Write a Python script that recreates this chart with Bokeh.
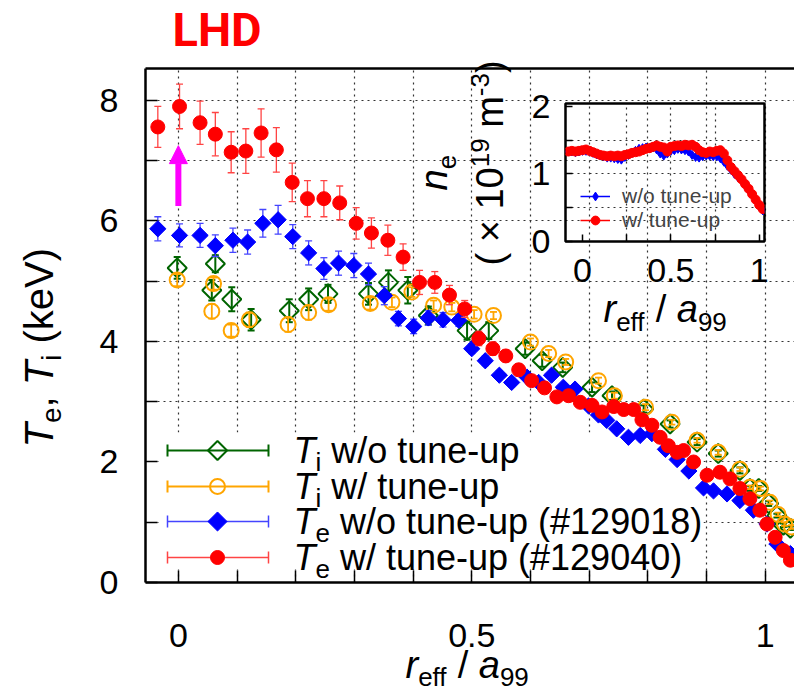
import math
from bokeh.plotting import figure
from bokeh.models import (Range1d, FixedTicker, LinearAxis, Legend, LegendItem,
                          Label, Arrow, NormalHead, ColumnDataSource, NumeralTickFormatter,
                          BoxAnnotation)
from bokeh.layouts import column
from bokeh.embed import file_html
from bokeh.resources import INLINE

# ---------------- data ----------------
# T_i without tune-up (green open diamonds)
ti_wo_r = [-0.002, 0.057, 0.063, 0.091, 0.124, 0.189, 0.222, 0.255, 0.324, 0.358,
           0.391, 0.426, 0.492, 0.529, 0.591, 0.620, 0.655, 0.705, 0.739, 0.793,
           0.838, 0.884, 0.920, 0.957, 0.974, 0.989, 1.006, 1.020, 1.031, 1.043]
ti_wo = [5.22, 4.85, 5.29, 4.70, 4.36, 4.51, 4.70, 4.79, 4.79, 4.98,
         4.85, 4.43, 4.18, 4.18, 3.88, 3.68, 3.57, 3.24, 3.10, 2.88,
         2.63, 2.33, 2.14, 1.86, 1.56, 1.56, 1.31, 1.11, 0.95, 0.90]
ti_wo_err = [0.18, 0.17, 0.14, 0.20, 0.18, 0.19, 0.18, 0.15, 0.18, 0.20,
             0.22, 0.15, 0.15, 0.14, 0.10, 0.10, 0.08, 0.08, 0.07, 0.06,
             0.06, 0.05, 0.05, 0.05, 0.04, 0.04, 0.04, 0.03, 0.03, 0.03]

# T_i with tune-up (orange open circles)
ti_w_r = [-0.002, 0.057, 0.060, 0.090, 0.121, 0.187, 0.222, 0.256, 0.327, 0.364,
          0.398, 0.435, 0.466, 0.504, 0.537, 0.600, 0.631, 0.660, 0.716, 0.743,
          0.796, 0.841, 0.884, 0.920, 0.957, 0.974, 0.992, 1.008, 1.022, 1.033, 1.045]
ti_w = [5.02, 4.50, 4.96, 4.18, 4.36, 4.28, 4.48, 4.61, 4.63, 4.65,
        4.82, 4.60, 4.57, 4.45, 4.43, 3.99, 3.80, 3.66, 3.35, 3.10,
        2.91, 2.66, 2.36, 2.16, 1.88, 1.58, 1.56, 1.33, 1.13, 0.97, 0.92]
ti_w_err = [0.10, 0.12, 0.10, 0.10, 0.12, 0.12, 0.12, 0.10, 0.10, 0.08,
            0.08, 0.08, 0.07, 0.07, 0.06, 0.06, 0.06, 0.05, 0.05, 0.05,
            0.05, 0.04, 0.04, 0.04, 0.03, 0.03, 0.03, 0.03, 0.03, 0.03, 0.03]

# T_e without tune-up #129018 (blue diamonds)
te_wo_r = [-0.035, 0.002, 0.037, 0.063, 0.093, 0.118, 0.144, 0.170, 0.195, 0.222,
           0.248, 0.273, 0.299, 0.324, 0.351, 0.375, 0.401, 0.426, 0.451, 0.478,
           0.500, 0.523, 0.547, 0.568, 0.594, 0.614, 0.636, 0.656, 0.676, 0.699,
           0.716, 0.730, 0.747, 0.767, 0.787, 0.807, 0.830, 0.850, 0.870, 0.895,
           0.912, 0.935, 0.957, 0.980, 1.003, 1.020, 1.043]
te_wo = [5.87, 5.76, 5.76, 5.59, 5.68, 5.65, 5.96, 6.02, 5.74, 5.47,
         5.21, 5.30, 5.26, 5.12, 4.76, 4.38, 4.25, 4.39, 4.36, 4.35,
         3.88, 3.68, 3.44, 3.32, 3.41, 3.32, 3.44, 3.24, 3.21, 2.93,
         2.78, 2.69, 2.55, 2.41, 2.44, 2.47, 2.21, 2.04, 1.85, 1.57,
         1.52, 1.47, 1.36, 1.20, 0.97, 0.64, 0.48]
te_wo_err = [0.20, 0.19, 0.20, 0.18, 0.20, 0.20, 0.23, 0.24, 0.20, 0.20,
             0.18, 0.20, 0.20, 0.18, 0.15, 0.12, 0.12, 0.12, 0.12, 0.10,
             0.08, 0.08, 0.07, 0.07, 0.07, 0.06, 0.06, 0.06, 0.05, 0.05,
             0.05, 0.05, 0.05, 0.04, 0.04, 0.04, 0.04, 0.04, 0.04, 0.03,
             0.03, 0.03, 0.03, 0.03, 0.03, 0.02, 0.02]

# T_e with tune-up #129040 (red circles)
te_w_r = [-0.035, 0.002, 0.037, 0.063, 0.090, 0.115, 0.141, 0.167, 0.194, 0.220,
          0.248, 0.275, 0.303, 0.329, 0.357, 0.383, 0.411, 0.437, 0.462, 0.488,
          0.512, 0.536, 0.558, 0.580, 0.602, 0.624, 0.645, 0.665, 0.685, 0.705,
          0.722, 0.742, 0.759, 0.776, 0.790, 0.807, 0.821, 0.835, 0.850, 0.861,
          0.878, 0.901, 0.923, 0.940, 0.957, 0.974, 0.991, 1.003, 1.017, 1.031, 1.043]
te_w = [7.56, 7.90, 7.63, 7.44, 7.14, 7.16, 7.46, 7.18, 6.64, 6.37,
        6.37, 6.30, 5.96, 5.80, 5.68, 5.40, 4.98, 4.98, 4.77, 4.54,
        4.05, 3.88, 3.76, 3.53, 3.35, 3.23, 3.08, 3.10, 2.99, 2.94,
        2.83, 2.92, 2.87, 2.87, 2.70, 2.61, 2.41, 2.27, 2.16, 2.19,
        2.00, 1.78, 1.83, 1.72, 1.56, 1.39, 1.20, 0.97, 0.75, 0.53, 0.37]
te_w_err = [0.34, 0.37, 0.36, 0.36, 0.34, 0.37, 0.40, 0.37, 0.32, 0.30,
            0.30, 0.28, 0.26, 0.25, 0.25, 0.22, 0.20, 0.18, 0.16, 0.14,
            0.12, 0.11, 0.10, 0.10, 0.09, 0.08, 0.08, 0.07, 0.07, 0.06,
            0.06, 0.06, 0.05, 0.05, 0.05, 0.05, 0.04, 0.04, 0.04, 0.04,
            0.04, 0.03, 0.03, 0.03, 0.03, 0.03, 0.03, 0.02, 0.02, 0.02, 0.02]

# inset: electron density n_e (10^19 m^-3)
ne_r = [-0.08, -0.06, -0.04, -0.02, 0.00, 0.02, 0.04, 0.06, 0.08, 0.10,
        0.12, 0.14, 0.16, 0.18, 0.20, 0.22, 0.24, 0.26, 0.28, 0.30,
        0.32, 0.34, 0.36, 0.38, 0.40, 0.42, 0.44, 0.46, 0.48, 0.50,
        0.52, 0.54, 0.56, 0.58, 0.60, 0.62, 0.64, 0.66, 0.68, 0.70,
        0.72, 0.74, 0.76, 0.78, 0.80, 0.82, 0.84, 0.86, 0.88, 0.90,
        0.92, 0.94, 0.96, 0.98, 1.00, 1.02]
ne_wo = [1.33, 1.33, 1.32, 1.33, 1.34, 1.34, 1.33, 1.31, 1.29, 1.27,
         1.26, 1.24, 1.24, 1.23, 1.22, 1.21, 1.25, 1.28, 1.31, 1.34,
         1.37, 1.38, 1.39, 1.38, 1.39, 1.36, 1.30, 1.27, 1.30, 1.34,
         1.35, 1.37, 1.36, 1.35, 1.33, 1.28, 1.25, 1.24, 1.26, 1.27,
         1.27, 1.26, 1.26, 1.23, 1.18, 1.12, 1.06, 1.00, 0.95, 0.90,
         0.83, 0.76, 0.69, 0.61, 0.52, 0.46]
ne_w = [1.33, 1.34, 1.33, 1.34, 1.35, 1.36, 1.34, 1.32, 1.30, 1.28,
        1.27, 1.26, 1.27, 1.26, 1.27, 1.26, 1.28, 1.29, 1.31, 1.32,
        1.33, 1.35, 1.37, 1.38, 1.40, 1.42, 1.40, 1.39, 1.33, 1.40,
        1.41, 1.42, 1.41, 1.43, 1.42, 1.43, 1.40, 1.35, 1.32, 1.31,
        1.33, 1.32, 1.34, 1.35, 1.30, 1.20, 1.10, 1.04, 0.98, 0.92,
        0.85, 0.78, 0.70, 0.62, 0.54, 0.48]

# magenta arrow on the axis
arrow_x = 0.0
arrow_y = [6.25, 7.25]

# axis ticks
main_x_major = [0, 0.5, 1]
main_x_minor = [0.1, 0.2, 0.3, 0.4, 0.6, 0.7, 0.8, 0.9]
main_x_grid = [0.0, 0.1, 0.2, 0.3, 0.4, 0.5, 0.6, 0.7, 0.8, 0.9, 1.0]
main_y_major = [0, 2, 4, 6, 8]
main_y_minor = [1, 3, 5, 7]
main_y_grid = [1, 2, 3, 4, 5, 6, 7, 8]
ins_x_major = [0, 0.5, 1]
ins_x_minor = [0.25, 0.75]
ins_y_major = [0, 1, 2]
ins_y_minor = [0.5, 1.5]

legend_sym = ["T", "T", "T", "T"]
legend_sub = ["i", "i", "e", "e"]
legend_rest = [" w/o tune-up", " w/ tune-up", " w/o tune-up (#129018)", " w/ tune-up (#129040)"]
inset_legend_labels = ["w/o tune-up", "w/ tune-up"]

# ---------------- layout constants (page pixels) ----------------
FONT = "Liberation Sans"
W, H = 794, 694
FL, FT, FB = 145, 68, 582            # main frame left / top / bottom
XR = (-0.056, 1.05)
YR = (0.0, 8.53)
QL, QT, QW, QH = 420, 80, 370, 255    # inset figure box on the page
QFL, QFT, QFR, QFB = 565, 103, 764, 241  # inset frame on the page
LEG_ROWS = [450, 486, 521, 557]
LEG_X0, LEG_XM, LEG_X1, LEG_TX = 167, 217, 268, 293
LEG_BOX = (158, 703, 432, 569)       # left, right, top, bottom
KB = 0.35                            # baseline correction of rendered labels

GREEN, ORANGE, BLUE, RED, MAG = "#006400", "#ffa500", "#0000ff", "#ff0000", "#ff00ff"
EBLUE, ERED = "#4444ff", "#ff4444"

WIDTHS = {' ': 0.278, '(': 0.333, ')': 0.333, '\u00d7': 0.584, '0': 0.556, '1': 0.556,
          '3': 0.556, '9': 0.556, '-': 0.333, 'm': 0.833, 'n': 0.556, 'e': 0.556,
          'r': 0.333, 'f': 0.278, '/': 0.278, 'a': 0.556, 'T': 0.611, 'i': 0.222,
          ',': 0.278, 'k': 0.5, 'V': 0.667}


def tw(s, size):
    return sum(WIDTHS.get(c, 0.556) for c in s) * size


def no_align(fig):
    if "frame_align" in fig.properties():
        fig.frame_align = False


def style_axis(ax, major, minor, size, standoff, tick_len, line=True):
    ax.ticker = FixedTicker(ticks=major, minor_ticks=minor)
    if line:
        ax.axis_line_color = "black"
        ax.axis_line_width = 2.5
    else:
        ax.axis_line_color = None
    ax.major_tick_in = tick_len
    ax.major_tick_out = 0
    ax.minor_tick_in = tick_len
    ax.minor_tick_out = 0
    ax.major_tick_line_width = 1.5
    ax.minor_tick_line_width = 1.5
    ax.major_tick_line_color = "black"
    ax.minor_tick_line_color = "black"
    ax.major_label_text_font = FONT
    ax.major_label_text_font_size = f"{size}px"
    ax.major_label_text_color = "black"
    ax.major_label_standoff = standoff


def err_source(r, v, e):
    return ColumnDataSource(dict(x=r, y=v, lo=[a - b for a, b in zip(v, e)],
                                 hi=[a + b for a, b in zip(v, e)]))


def series(fig, src, marker, size, color, ecolor, filled, angle=0.0, lw=1.0, ew=1.3):
    fig.segment(x0="x", y0="lo", x1="x", y1="hi", source=src, line_color=ecolor, line_width=ew)
    fig.scatter(x="x", y="lo", source=src, marker="dash", size=7, line_color=ecolor, line_width=ew)
    fig.scatter(x="x", y="hi", source=src, marker="dash", size=7, line_color=ecolor, line_width=ew)
    fig.scatter(x="x", y="y", source=src, marker=marker, size=size, angle=angle,
                fill_color=color if filled else None, line_color=color, line_width=lw)


def px2x(px):
    return XR[0] + (px - FL) * (XR[1] - XR[0]) / (W - FL)


def py2y(py):
    return YR[0] + (FB - py) * (YR[1] - YR[0]) / (FB - FT)


# ---------------- main figure ----------------
p = figure(width=W, height=H, x_range=Range1d(*XR), y_range=Range1d(*YR),
           output_backend="svg", toolbar_location=None,
           min_border_left=FL, min_border_right=0, min_border_top=FT, min_border_bottom=H - FB)
no_align(p)
p.outline_line_color = None
p.background_fill_color = "white"
p.border_fill_color = "white"

style_axis(p.xaxis[0], main_x_major, main_x_minor, 34, 41, 12)
p.xaxis[0].formatter = NumeralTickFormatter(format="0.[0]")
style_axis(p.yaxis[0], main_y_major, main_y_minor, 34, 27, 12)

top = LinearAxis(ticker=FixedTicker(ticks=[]), axis_line_width=2.5, axis_line_color="black",
                 major_label_text_font_size="1px", major_tick_out=0, major_tick_in=0,
                 minor_tick_out=0, minor_tick_in=0, major_label_standoff=0)
p.add_layout(top, "above")

p.xgrid.ticker = FixedTicker(ticks=main_x_grid)
p.ygrid.ticker = FixedTicker(ticks=main_y_grid)
for g in (p.xgrid, p.ygrid):
    g.grid_line_color = "#333333"
    g.grid_line_dash = "2 4"
    g.grid_line_width = 1.2

# opaque key background: above the grid, below the data
p.add_layout(BoxAnnotation(left=px2x(LEG_BOX[0]), right=px2x(LEG_BOX[1]),
                           top=py2y(LEG_BOX[2]), bottom=py2y(LEG_BOX[3]),
                           fill_color="white", fill_alpha=1.0, line_alpha=0, level="underlay"))

series(p, err_source(ti_wo_r, ti_wo, ti_wo_err), "square", 13.5, GREEN, GREEN, False,
       angle=math.pi / 4, lw=2, ew=2.0)
series(p, err_source(ti_w_r, ti_w, ti_w_err), "circle", 15, ORANGE, ORANGE, False, lw=2, ew=1.8)
series(p, err_source(te_wo_r, te_wo, te_wo_err), "square", 11.5, BLUE, EBLUE, True,
       angle=math.pi / 4)
series(p, err_source(te_w_r, te_w, te_w_err), "circle", 14, RED, ERED, True)

p.add_layout(Arrow(x_start=arrow_x, y_start=arrow_y[0], x_end=arrow_x, y_end=arrow_y[1],
                   line_color=MAG, line_width=6,
                   end=NormalHead(size=18, fill_color=MAG, line_color=MAG)))

# ---------------- inset figure ----------------
q = figure(width=QW, height=QH, x_range=Range1d(-0.096, 1.03), y_range=Range1d(0, 2.04),
           output_backend="svg", toolbar_location=None,
           min_border_left=QFL - QL, min_border_right=QL + QW - QFR,
           min_border_top=QFT - QT, min_border_bottom=QT + QH - QFB)
no_align(q)
q.background_fill_alpha = 0
q.border_fill_alpha = 0
q.outline_line_color = "black"
q.outline_line_width = 2.5
style_axis(q.xaxis[0], ins_x_major, ins_x_minor, 34, 17, 7, line=False)
q.xaxis[0].formatter = NumeralTickFormatter(format="0.[0]")
style_axis(q.yaxis[0], ins_y_major, ins_y_minor, 34, 15, 7, line=False)
q.xgrid.ticker = FixedTicker(ticks=[0.25, 0.5, 0.75])
q.ygrid.ticker = FixedTicker(ticks=[0.5, 1, 1.5])
for g in (q.xgrid, q.ygrid):
    g.grid_line_color = "#333333"
    g.grid_line_dash = "2 4"
    g.grid_line_width = 1.2

bl = q.line(ne_r, ne_wo, line_color=BLUE, line_width=1.5)
bs = q.scatter(ne_r, ne_wo, marker="diamond", size=9, color=BLUE)
rl = q.line(ne_r, ne_w, line_color=RED, line_width=1.5)
rs = q.scatter(ne_r, ne_w, marker="circle", size=9, color=RED)

ileg = Legend(items=[LegendItem(label=inset_legend_labels[0], renderers=[bl, bs]),
                     LegendItem(label=inset_legend_labels[1], renderers=[rl, rs])],
              location=(15, 9))
ileg.glyph_width = 30
ileg.glyph_height = 22
ileg.label_height = 22
ileg.spacing = 0
ileg.padding = 0
ileg.margin = 0
ileg.label_standoff = 12
ileg.label_text_font = FONT
ileg.label_text_font_size = "21px"
ileg.background_fill_alpha = 0
ileg.border_line_alpha = 0
q.add_layout(ileg, "center")

# ---------------- overlay for texts and the main key (page-pixel coordinates) ----------------
o = figure(width=W, height=H, x_range=Range1d(0, W), y_range=Range1d(H, 0),
           output_backend="svg", toolbar_location=None, title=None,
           x_axis_location=None, y_axis_location=None, min_border=0,
           min_border_left=0, min_border_right=0, min_border_top=0, min_border_bottom=0)
no_align(o)
o.grid.visible = False
o.outline_line_color = None
o.background_fill_alpha = 0
o.border_fill_alpha = 0


def put(fig, text, x, y, size, style, ang, color="black", font=FONT):
    fig.add_layout(Label(x=x, y=y, text=text, text_font=font, text_font_size=f"{size}px",
                         text_font_style=style, text_color=color, angle=ang,
                         text_align="left", text_baseline="alphabetic"))


def rich(fig, pieces, x0, y0, vertical=False, color="black"):
    pos = 0.0
    sp = WIDTHS[' ']
    for text, size, style, shift in pieces:
        lead = len(text) - len(text.lstrip(' '))
        trail = len(text) - len(text.rstrip(' '))
        core = text.strip(' ')
        pos += lead * sp * size
        if core:
            if vertical:
                put(fig, core, x0 + shift - KB * size, y0 - pos, size, style, math.pi / 2, color)
            else:
                put(fig, core, x0 + pos, y0 + shift - KB * size, size, style, 0, color)
        pos += tw(core, size) + trail * sp * size


# key of the main plot
key_styles = [
    dict(marker="square", size=13.5, angle=math.pi / 4, line=GREEN, fill=None, lw=2, el=2.0),
    dict(marker="circle", size=15, angle=0.0, line=ORANGE, fill=None, lw=2, el=2.0),
    dict(marker="square", size=13.5, angle=math.pi / 4, line=BLUE, fill=BLUE, lw=1, el=1.5),
    dict(marker="circle", size=14, angle=0.0, line=RED, fill=RED, lw=1, el=1.5),
]
key_err = [GREEN, ORANGE, EBLUE, ERED]
for ry, st, ec, sym, sub, rest in zip(LEG_ROWS, key_styles, key_err, legend_sym, legend_sub,
                                      legend_rest):
    o.segment(x0=[LEG_X0], y0=[ry], x1=[LEG_X1], y1=[ry], line_color=ec, line_width=st["el"])
    o.segment(x0=[LEG_X0, LEG_X1], y0=[ry - 6, ry - 6], x1=[LEG_X0, LEG_X1], y1=[ry + 6, ry + 6],
              line_color=ec, line_width=st["el"])
    o.scatter(x=[LEG_XM], y=[ry], marker=st["marker"], size=st["size"], angle=st["angle"],
              line_color=st["line"], fill_color=st["fill"], line_width=st["lw"])
    rich(o, [(sym, 36, "italic", 0), (sub, 26, "normal", 8), (rest, 36, "normal", 0)],
         LEG_TX, ry + 13)

# axis titles
rich(o, [("r", 38, "italic", 0), ("eff", 26, "normal", 8), (" / ", 38, "normal", 0),
         ("a", 38, "italic", 0), ("99", 26, "normal", 8)], 405, 678)
rich(o, [("T", 40, "italic", 0), ("e", 28, "normal", 9), (", ", 40, "normal", 0),
         ("T", 40, "italic", 0), ("i", 28, "normal", 9), (" (keV)", 40, "normal", 0)],
     52, 447, vertical=True)
rich(o, [("r", 38, "italic", 0), ("eff", 26, "normal", 9), (" / ", 38, "normal", 0),
         ("a", 38, "italic", 0), ("99", 26, "normal", 9)], 603, 322)
rich(o, [("n", 38, "italic", 0), ("e", 26, "normal", 9)], 447, 190, vertical=True)
rich(o, [("( \u00d7 10", 38, "normal", 0), ("19", 26, "normal", -14), (" m", 38, "normal", 0),
         ("-3", 26, "normal", -14), (")", 38, "normal", 0)], 503, 265, vertical=True)

put(o, "LHD", 172, 45 - KB * 47, 47, "bold", 0, color=RED, font="Roboto")

q.styles = {"position": "absolute", "left": f"{QL}px", "top": f"{QT}px"}
o.styles = {"position": "absolute", "left": "0px", "top": "0px"}
layout = column(p, q, o, styles={"position": "relative"})

open("out.html", "w").write(file_html(layout, INLINE))
